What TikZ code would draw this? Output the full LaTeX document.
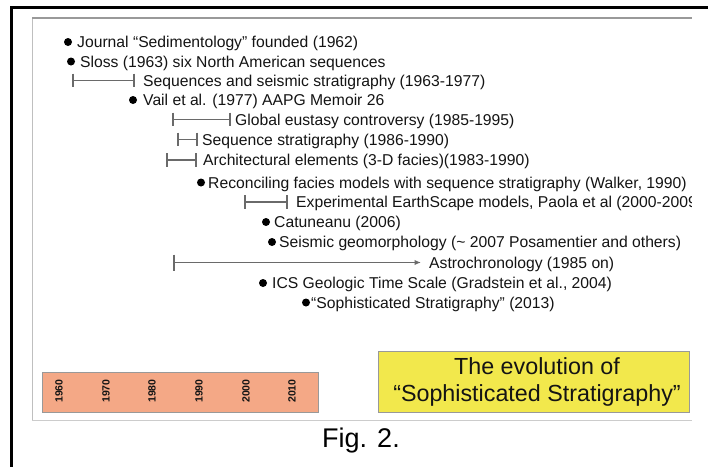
\documentclass[tikz,border=0pt]{standalone}
\usepackage{fontspec}
\setmainfont{Liberation Sans}
\usetikzlibrary{arrows.meta}
\definecolor{barc}{HTML}{6A6A6A}
\definecolor{txt}{HTML}{141414}
\definecolor{orangeb}{HTML}{F4A886}
\definecolor{yellowb}{HTML}{F2E84C}
\begin{document}
\begin{tikzpicture}[x=1pt,y=-1pt,
  lbl/.style={inner sep=0pt, anchor=base west, text=txt, font=\fontsize{15.7}{18}\selectfont},
  dot/.style={circle, fill=black, inner sep=0pt, minimum size=8pt},
  span/.style={draw=barc, line width=1.3pt},
  spantick/.style={draw=barc, line width=1.3pt},
  spanarrow/.style={draw=barc, line width=1.3pt, -{Latex[length=6.5pt,width=5.5pt]}},
  year/.style={rotate=90, inner sep=0pt, text=txt, font=\bfseries\fontsize{10.5}{12}\selectfont}]
\useasboundingbox (0,0) rectangle (708,466);
\clip (0,0) rectangle (708,466);
\fill[white] (0,0) rectangle (708,466);
% outer black frame (cropped)
\draw[line width=3pt] (11,480) -- (11,7.5) -- (720,7.5);
% inner light frame
\draw[draw=black!20, line width=1pt] (32,420) -- (692,420);
\draw[draw=black!25, line width=1pt] (32,18) -- (32,420);
\draw[draw=black!40, line width=1.2pt] (32,18) -- (692,18);

% 1
\node[dot] (d1) at (68,42) {};
\node[lbl] (t1) at (77,47.5) {Journal “Sedimentology” founded (1962)};
% 2
\node[dot] (d2) at (71,61.5) {};
\node[lbl] (t2) at (80,67) {Sloss (1963) six North American sequences};
% 3
\coordinate (a3) at (73,80.5); \coordinate (b3) at (134,80.5);
\draw[span] (a3) -- (b3);
\draw[spantick] ([yshift=6.8pt]a3) -- ([yshift=-6.8pt]a3);
\draw[spantick] ([yshift=6.8pt]b3) -- ([yshift=-6.8pt]b3);
\node[lbl] (t3) at (143,86) {Sequences and seismic stratigraphy (1963-1977)};
% 4
\node[dot] (d4) at (133,100) {};
\node[lbl] (t4) at (143,105.5) {Vail et al. (1977) AAPG Memoir 26};
% 5
\coordinate (a5) at (173,119.5); \coordinate (b5) at (230,119.5);
\draw[span] (a5) -- (b5);
\draw[spantick] ([yshift=6.8pt]a5) -- ([yshift=-6.8pt]a5);
\draw[spantick] ([yshift=6.8pt]b5) -- ([yshift=-6.8pt]b5);
\node[lbl] (t5) at (235,125) {Global eustasy controversy (1985-1995)};
% 6
\coordinate (a6) at (178,139.5); \coordinate (b6) at (197,139.5);
\draw[span] (a6) -- (b6);
\draw[spantick] ([yshift=6.8pt]a6) -- ([yshift=-6.8pt]a6);
\draw[spantick] ([yshift=6.8pt]b6) -- ([yshift=-6.8pt]b6);
\node[lbl] (t6) at (202,145) {Sequence stratigraphy (1986-1990)};
% 7
\coordinate (a7) at (167,160); \coordinate (b7) at (196,160);
\draw[span] (a7) -- (b7);
\draw[spantick] ([yshift=6.8pt]a7) -- ([yshift=-6.8pt]a7);
\draw[spantick] ([yshift=6.8pt]b7) -- ([yshift=-6.8pt]b7);
\node[lbl] (t7) at (203,165.5) {Architectural elements (3-D facies)(1983-1990)};
% 8
\node[dot] (d8) at (201,182.5) {};
\node[lbl] (t8) at (208,188) {Reconciling facies models with sequence stratigraphy (Walker, 1990)};
% 9
\coordinate (a9) at (245,202); \coordinate (b9) at (287,202);
\draw[span] (a9) -- (b9);
\draw[spantick] ([yshift=6.8pt]a9) -- ([yshift=-6.8pt]a9);
\draw[spantick] ([yshift=6.8pt]b9) -- ([yshift=-6.8pt]b9);
\begin{scope}
\clip (0,0) rectangle (691,466);
\node[lbl] (t9) at (296,207.5) {Experimental EarthScape models, Paola et al (2000-2009)};
\end{scope}
% 10
\node[dot] (d10) at (266,222) {};
\node[lbl] (t10) at (274,227.5) {Catuneanu (2006)};
% 11
\node[dot] (d11) at (272,242) {};
\node[lbl] (t11) at (279,247.5) {Seismic geomorphology (\textasciitilde{} 2007 Posamentier and others)};
% 12
\coordinate (a12) at (174,262.5); \coordinate (b12) at (421,262.5);
\draw[spanarrow] (a12) -- (b12);
\draw[spantick] ([yshift=8pt]a12) -- ([yshift=-8pt]a12);
\node[lbl] (t12) at (429,268) {Astrochronology (1985 on)};
% 13
\node[dot] (d13) at (263,283) {};
\node[lbl] (t13) at (272,288.5) {ICS Geologic Time Scale (Gradstein et al., 2004)};
% 14
\node[dot] (d14) at (306,302.5) {};
\node[lbl] (t14) at (311,308) {“Sophisticated Stratigraphy” (2013)};

% timeline scale
\node[draw=black!40, line width=0.8pt, fill=orangeb, inner sep=0pt,
      minimum width=276pt, minimum height=40pt, anchor=north west] (scale) at (42,372) {};
\node[year] (y1960) at (59,391) {1960};
\node[year] (y1970) at (106,391) {1970};
\node[year] (y1980) at (152,391) {1980};
\node[year] (y1990) at (199,391) {1990};
\node[year] (y2000) at (246,391) {2000};
\node[year] (y2010) at (292,391) {2010};

% title box
\node[draw=black!40, line width=0.8pt, fill=yellowb, inner sep=0pt,
      minimum width=311pt, minimum height=61pt] (title) at (533.5,381.5) {};
\node[text=txt, align=center, inner sep=0pt, font=\fontsize{23.3}{27}\selectfont] (titletext) at (537,381.5)
  {The evolution of\\“Sophisticated Stratigraphy”};

% caption
\node[anchor=base, inner sep=0pt, font=\fontsize{27}{30}\selectfont] (fig) at (361,447) {Fig. 2.};
\end{tikzpicture}
\end{document}
